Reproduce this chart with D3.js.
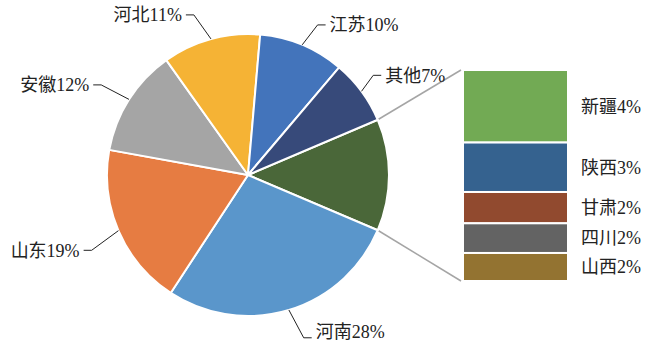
<!DOCTYPE html>
<html>
<head>
<meta charset="utf-8">
<script src="https://cdn.jsdelivr.net/npm/d3@7/dist/d3.min.js"></script>
<style>
  body { margin: 0; background: #fff; }
  text { font-family: "Liberation Serif", "Noto Sans CJK SC", serif; font-size: 18px; fill: #222; }
</style>
</head>
<body>
<div id="chart"></div>
<script>
// main pie (the first slice is the group that is opened in the bar)
const pieNames = ["河南", "山东", "安徽", "河北", "江苏", "其他"];
const pieValues = [27.8, 18.6, 12.3, 11.2, 9.8, 7.4];
const barNames = ["新疆", "陕西", "甘肃", "四川", "山西"];
const barValues = [4.4, 3.0, 1.9, 1.8, 1.7];

const pieColors = ["#5a96cb", "#e67c42", "#a5a5a5", "#f5b335", "#4374bb", "#374a7a"];
const groupColor = "#4a6739";
const barColors = ["#72aa54", "#35628f", "#914a2f", "#636363", "#937331"];

// label nudges [dx, dy, text dy] against the radial elbow
const labelNudge = [[7, 2, -6], [-2, 9, 0], [-5, 0, 0], [-10, 2, 0], [5, 5, 0], [-10, 0, 0]];

const width = 647, height = 352;
const cx = 248, cy = 175, r = 141;
const barX = 463, barW = 105, barTop = 70, barBottom = 281;

const svg = d3.select("#chart").append("svg")
    .attr("width", width)
    .attr("height", height);

const groupTotal = d3.sum(barValues);
const slices = [{name: null, value: groupTotal, color: groupColor}]
    .concat(pieNames.map((n, i) => ({name: n, value: pieValues[i], color: pieColors[i]})));
const total = d3.sum(slices, d => d.value);
const start = Math.PI / 2 - (groupTotal / total) * Math.PI;

const pie = d3.pie()
    .sort(null)
    .value(d => d.value)
    .startAngle(start)
    .endAngle(start + 2 * Math.PI);

const arcs = pie(slices);
const arc = d3.arc().innerRadius(0).outerRadius(r);
const pt = (a, rad) => [cx + rad * Math.sin(a), cy - rad * Math.cos(a)];

// connector lines between group slice and bar
let g0 = arcs[0];
let lineData = [
    [pt(g0.startAngle, r), [barX - 2, barTop]],
    [pt(g0.endAngle, r), [barX - 2, barBottom]]
];
svg.selectAll(".conn")
    .data(lineData)
    .enter()
    .append("line")
    .attr("x1", d => d[0][0]).attr("y1", d => d[0][1])
    .attr("x2", d => d[1][0]).attr("y2", d => d[1][1])
    .attr("stroke", "#a5a5a5")
    .attr("stroke-width", 1.5);

let pieG = svg.append("g").attr("transform", "translate(" + cx + "," + cy + ")");
pieG.selectAll("path")
    .data(arcs)
    .enter()
    .append("path")
    .attr("d", arc)
    .attr("fill", d => d.data.color)
    .attr("stroke", "#fff")
    .attr("stroke-width", 2)
    .attr("stroke-linejoin", "round");

// labels with leader lines
arcs.slice(1).forEach(function (d, i) {
    let mid = (d.startAngle + d.endAngle) / 2;
    let right = Math.sin(mid) > 0;
    let p0 = pt(mid, r);
    let e = pt(mid, 168);
    e = [e[0] + labelNudge[i][0], e[1] + labelNudge[i][1]];
    let hx = right ? e[0] + 8 : e[0] - 8;
    svg.append("polyline")
        .attr("points", [p0, e, [hx, e[1]]].map(p => p.join(",")).join(" "))
        .attr("fill", "none")
        .attr("stroke", "#222")
        .attr("stroke-width", 1);
    svg.append("text")
        .attr("x", right ? hx + 4 : hx - 4)
        .attr("y", e[1] + labelNudge[i][2])
        .attr("dy", "0.35em")
        .attr("text-anchor", right ? "start" : "end")
        .text(d.data.name + Math.round(d.data.value) + "%");
});

// bar of the group
let yScale = d3.scaleLinear()
    .domain([0, groupTotal])
    .range([barTop, barBottom]);
let cum = d3.cumsum(barValues);
let barData = barNames.map((n, i) => ({name: n, value: barValues[i], y0: cum[i] - barValues[i], y1: cum[i], color: barColors[i]}));

svg.selectAll(".seg")
    .data(barData)
    .enter()
    .append("rect")
    .attr("x", barX)
    .attr("y", d => yScale(d.y0))
    .attr("width", barW)
    .attr("height", d => yScale(d.y1) - yScale(d.y0))
    .attr("fill", d => d.color)
    .attr("stroke", "#fff")
    .attr("stroke-width", 2);

svg.selectAll(".barlab")
    .data(barData)
    .enter()
    .append("text")
    .attr("x", barX + barW + 13)
    .attr("y", d => (yScale(d.y0) + yScale(d.y1)) / 2)
    .attr("dy", "0.35em")
    .text(d => d.name + Math.round(d.value) + "%");
</script>
</body>
</html>
